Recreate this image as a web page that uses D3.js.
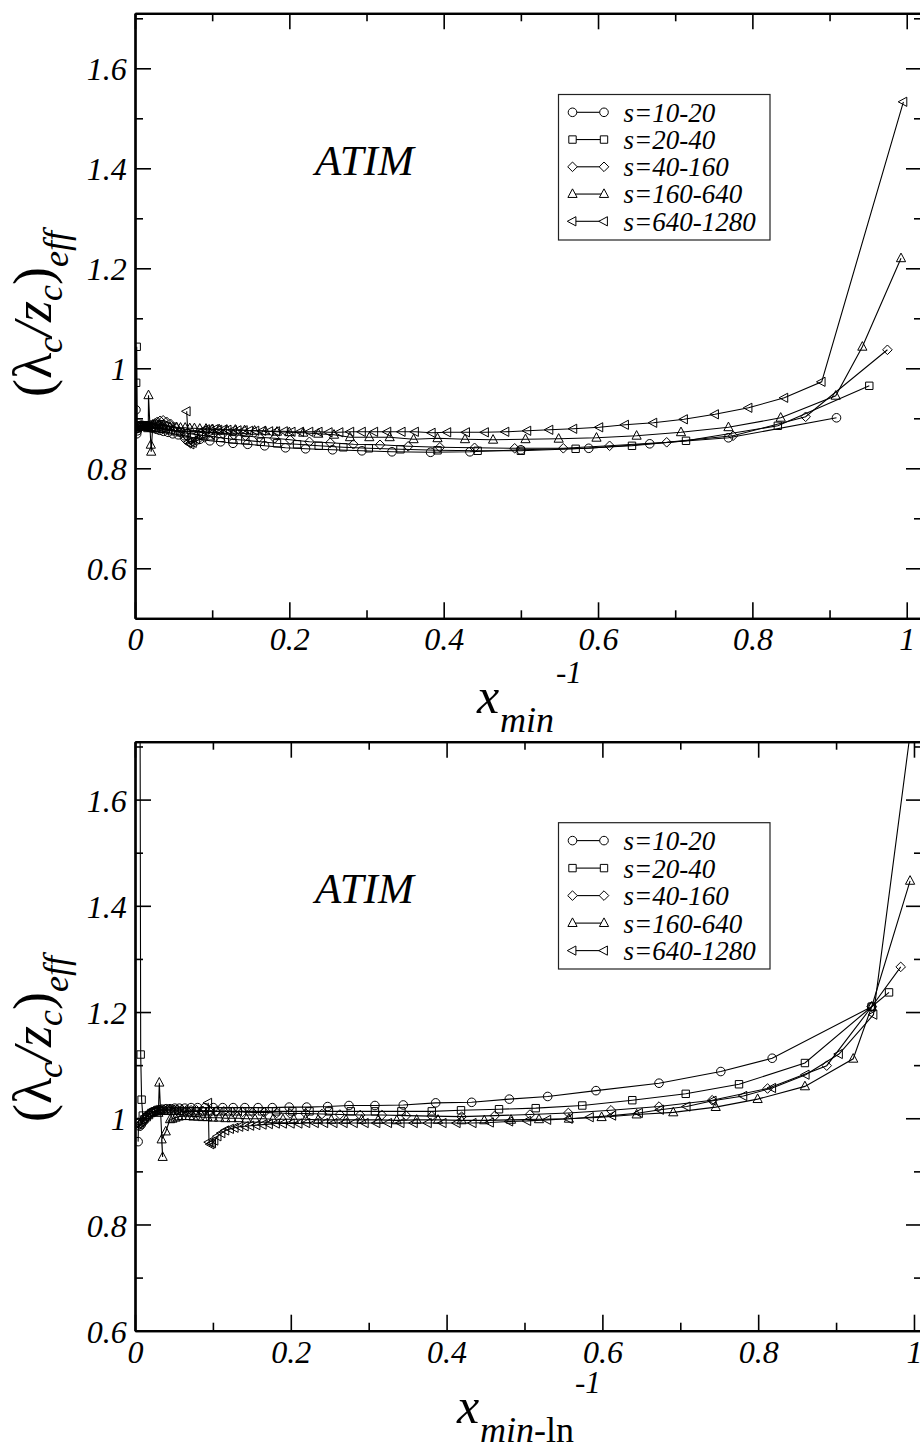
<!DOCTYPE html>
<html lang="en">
<meta charset="utf-8">
<style>
  body { margin: 0; background: #fff; }
  svg text { font-family: 'Liberation Serif', 'DejaVu Serif', serif; font-style: italic; fill: #000; }
</style>
<script src="https://d3js.org/d3.v7.min.js"></script>
<body>
<div id="chart"></div>
<script>
// series labels and symbols
var seriesNames = ["s=10-20", "s=20-40", "s=40-160", "s=160-640", "s=640-1280"];
var symbols = ["circle", "square", "diamond", "triangle", "ltriangle"];
var xMajor = [0, 0.2, 0.4, 0.6, 0.8, 1];
var xMinor = [0.1, 0.3, 0.5, 0.7, 0.9];
var yMajorTop = [0.6, 0.8, 1, 1.2, 1.4, 1.6];
var yMinorTop = [0.7, 0.9, 1.1, 1.3, 1.5, 1.7];
var yMajorBot = [0.6, 0.8, 1, 1.2, 1.4, 1.6];
var yMinorBot = [0.7, 0.9, 1.1, 1.3, 1.5, 1.7];

// ---- top panel: x = x_min^-1, y = (lambda_c/z_c)_eff ----
var topS10 = [[0.909,0.901],[0.769,0.861],[0.667,0.849],[0.588,0.840],[0.500,0.837],[0.434,0.833],
  [0.383,0.832],[0.333,0.833],[0.294,0.835],[0.256,0.837],[0.221,0.839],[0.195,0.841],[0.168,0.845],
  [0.146,0.848],[0.127,0.850],[0.111,0.853],[0.097,0.855],[0.084,0.858],[0.073,0.862],[0.064,0.865],
  [0.056,0.867],[0.049,0.869],[0.043,0.872],[0.037,0.874],[0.032,0.876],[0.028,0.878],[0.024,0.880],
  [0.021,0.881],[0.018,0.882],[0.016,0.883],[0.014,0.884],[0.012,0.885],[0.010,0.885],[0.009,0.886],
  [0.008,0.886],[0.007,0.885],[0.006,0.884],[0.005,0.883],[0.004,0.880],[0.003,0.875],[0.0022,0.869],
  [0.0012,0.917]];
var topS20 = [[0.9515,0.965],[0.833,0.885],[0.714,0.855],[0.644,0.845],[0.571,0.839],[0.500,0.835],
  [0.444,0.835],[0.392,0.836],[0.344,0.838],[0.303,0.840],[0.270,0.842],[0.238,0.845],[0.210,0.848],
  [0.184,0.850],[0.163,0.853],[0.143,0.856],[0.126,0.858],[0.111,0.861],[0.098,0.864],[0.086,0.866],
  [0.076,0.868],[0.067,0.870],[0.059,0.872],[0.052,0.874],[0.046,0.876],[0.040,0.878],[0.035,0.879],
  [0.031,0.880],[0.027,0.881],[0.024,0.882],[0.021,0.883],[0.018,0.884],[0.016,0.885],[0.014,0.886],
  [0.012,0.886],[0.010,0.886],[0.008,0.886],[0.006,0.885],[0.0045,0.884],[0.003,0.885],[0.0022,1.043],
  [0.0015,0.971],[0.0008,0.20]];
var topS40 = [[0.975,1.037],[0.869,0.903],[0.775,0.865],[0.689,0.852],[0.615,0.845],[0.555,0.840],
  [0.492,0.840],[0.440,0.841],[0.395,0.842],[0.354,0.844],[0.3175,0.847],[0.283,0.848],[0.253,0.851],
  [0.226,0.853],[0.201,0.857],[0.181,0.860],[0.161,0.862],[0.143,0.865],[0.128,0.867],[0.114,0.869],
  [0.101,0.868],[0.090,0.862],[0.080,0.855],[0.072,0.850],[0.065,0.858],[0.058,0.872],[0.052,0.882],
  [0.046,0.889],[0.041,0.893],[0.0365,0.896],[0.0325,0.895],[0.029,0.893],[0.026,0.890],[0.023,0.888],
  [0.020,0.886],[0.017,0.885],[0.014,0.884],[0.011,0.884],[0.008,0.883],[0.005,0.882],[0.003,0.880]];
var topS160 = [[0.9926,1.220],[0.9425,1.043],[0.908,0.945],[0.8367,0.901],[0.769,0.882],[0.7075,0.872],
  [0.650,0.865],[0.598,0.861],[0.549,0.859],[0.506,0.858],[0.464,0.857],[0.4276,0.858],[0.392,0.860],
  [0.361,0.858],[0.330,0.862],[0.3036,0.862],[0.2786,0.862],[0.2579,0.867],[0.2375,0.869],[0.218,0.871],
  [0.200,0.872],[0.184,0.873],[0.169,0.874],[0.155,0.875],[0.142,0.876],[0.130,0.877],[0.119,0.877],
  [0.109,0.878],[0.100,0.878],[0.092,0.879],[0.084,0.879],[0.077,0.880],[0.071,0.880],[0.065,0.881],
  [0.059,0.881],[0.054,0.882],[0.049,0.882],[0.045,0.883],[0.041,0.884],[0.037,0.885],[0.034,0.886],
  [0.031,0.887],[0.028,0.888],[0.025,0.887],[0.023,0.886],[0.021,0.833],[0.0205,0.847],[0.0175,0.946],
  [0.0172,0.880]];
var topS640 = [[0.9957,1.533],[0.8898,0.973],[0.8414,0.941],[0.795,0.921],[0.7516,0.908],[0.7114,0.898],
  [0.6717,0.891],[0.635,0.887],[0.6017,0.882],[0.568,0.879],[0.537,0.877],[0.5084,0.875],[0.480,0.873],
  [0.4535,0.872],[0.429,0.872],[0.4047,0.872],[0.3845,0.871],[0.3628,0.873],[0.3456,0.873],[0.327,0.873],
  [0.310,0.873],[0.294,0.873],[0.279,0.873],[0.265,0.872],[0.251,0.872],[0.238,0.873],[0.226,0.873],
  [0.214,0.873],[0.203,0.873],[0.193,0.874],[0.183,0.874],[0.174,0.874],[0.165,0.875],[0.156,0.875],
  [0.148,0.875],[0.141,0.876],[0.133,0.876],[0.127,0.876],[0.120,0.877],[0.114,0.877],[0.108,0.877],
  [0.103,0.878],[0.097,0.878],[0.092,0.878],[0.088,0.876],[0.083,0.870],[0.079,0.858],[0.075,0.851],
  [0.072,0.848],[0.069,0.852],[0.067,0.914]];

// ---- bottom panel: x = x_min-ln^-1 ----
var botS10 = [[0.9457,1.210],[0.818,1.113],[0.752,1.088],[0.6727,1.066],[0.5918,1.052],[0.5298,1.041],
  [0.4805,1.036],[0.4322,1.030],[0.386,1.029],[0.3444,1.025],[0.308,1.024],[0.2747,1.024],[0.2473,1.022],
  [0.2204,1.021],[0.198,1.021],[0.1763,1.020],[0.158,1.020],[0.141,1.020],[0.126,1.020],[0.1126,1.020],
  [0.1005,1.020],[0.0899,1.020],[0.0805,1.020],[0.072,1.020],[0.064,1.019],[0.057,1.019],[0.051,1.019],
  [0.045,1.018],[0.040,1.018],[0.035,1.017],[0.031,1.016],[0.027,1.015],[0.024,1.012],[0.021,1.010],
  [0.018,1.007],[0.015,1.003],[0.012,0.998],[0.010,0.993],[0.008,0.988],[0.006,0.985],[0.0045,0.990],
  [0.004,0.956]];
var botS20 = [[0.968,1.237],[0.9457,1.210],[0.860,1.104],[0.7754,1.064],[0.707,1.046],[0.6384,1.034],
  [0.5742,1.024],[0.5144,1.019],[0.4673,1.017],[0.4185,1.015],[0.381,1.013],[0.342,1.013],[0.308,1.013],
  [0.277,1.013],[0.249,1.013],[0.224,1.013],[0.202,1.013],[0.181,1.013],[0.163,1.013],[0.147,1.013],
  [0.132,1.013],[0.119,1.013],[0.107,1.013],[0.096,1.013],[0.086,1.013],[0.078,1.013],[0.070,1.013],
  [0.063,1.013],[0.057,1.014],[0.051,1.014],[0.046,1.014],[0.041,1.014],[0.037,1.014],[0.033,1.014],
  [0.030,1.014],[0.027,1.013],[0.024,1.012],[0.021,1.010],[0.018,1.006],[0.015,1.002],[0.012,0.998],
  [0.010,1.005],[0.0085,1.035],[0.0073,1.120],[0.0055,2.6]];
var botS40 = [[0.983,1.285],[0.9457,1.210],[0.888,1.099],[0.812,1.056],[0.741,1.034],[0.6727,1.022],
  [0.611,1.015],[0.5563,1.010],[0.507,1.007],[0.462,1.005],[0.4193,1.003],[0.381,1.004],[0.348,1.005],
  [0.317,1.006],[0.289,1.006],[0.263,1.007],[0.240,1.008],[0.219,1.009],[0.199,1.009],[0.182,1.010],
  [0.166,1.011],[0.151,1.011],[0.138,1.012],[0.125,1.012],[0.114,1.013],[0.104,1.013],[0.095,1.014],
  [0.087,1.014],[0.079,1.015],[0.072,1.015],[0.066,1.015],[0.060,1.016],[0.054,1.016],[0.050,1.016],
  [0.045,1.016],[0.041,1.016],[0.037,1.016],[0.034,1.016],[0.031,1.016],[0.028,1.015],[0.025,1.014],
  [0.022,1.012],[0.019,1.009],[0.016,1.005],[0.013,1.000],[0.010,0.994],[0.008,0.990],[0.006,0.988],
  [0.004,0.992]];
var botS160 = [[0.995,1.447],[0.9457,1.210],[0.922,1.112],[0.860,1.060],[0.7993,1.036],[0.7455,1.021],
  [0.691,1.011],[0.644,1.007],[0.599,1.002],[0.557,0.999],[0.5186,0.998],[0.4827,0.997],[0.4484,0.996],
  [0.4193,0.996],[0.389,0.997],[0.3616,0.997],[0.336,0.996],[0.3123,0.997],[0.291,0.997],[0.271,0.997],
  [0.252,0.997],[0.235,0.997],[0.219,0.998],[0.204,0.998],[0.190,0.998],[0.177,0.998],[0.165,0.999],
  [0.154,0.999],[0.143,0.999],[0.133,1.000],[0.124,1.000],[0.116,1.000],[0.108,1.001],[0.100,1.001],
  [0.093,1.002],[0.087,1.002],[0.081,1.003],[0.075,1.003],[0.070,1.004],[0.065,1.004],[0.060,1.004],
  [0.056,1.003],[0.052,1.001],[0.048,0.999],[0.045,0.998],[0.0395,0.975],[0.0342,0.960],[0.0355,0.927],
  [0.0312,1.067],[0.0300,1.010]];
var botS640 = [[1.000,1.78],[0.948,1.195],[0.9037,1.121],[0.861,1.082],[0.818,1.057],[0.781,1.042],
  [0.7416,1.033],[0.7082,1.022],[0.674,1.016],[0.647,1.010],[0.6127,1.005],[0.584,1.002],[0.557,0.999],
  [0.5293,0.997],[0.5036,0.995],[0.4805,0.994],[0.4557,0.992],[0.4335,0.991],[0.413,0.991],[0.395,0.991],
  [0.376,0.991],[0.358,0.991],[0.341,0.991],[0.325,0.991],[0.310,0.991],[0.295,0.991],[0.281,0.991],
  [0.268,0.991],[0.255,0.991],[0.243,0.991],[0.231,0.991],[0.220,0.991],[0.210,0.990],[0.200,0.990],
  [0.190,0.990],[0.181,0.990],[0.172,0.989],[0.164,0.988],[0.156,0.987],[0.148,0.986],[0.141,0.985],
  [0.134,0.984],[0.128,0.982],[0.122,0.980],[0.116,0.977],[0.111,0.972],[0.106,0.966],[0.102,0.958],
  [0.099,0.953],[0.097,0.951],[0.095,0.955],[0.094,1.029]];

var W = 920, H = 1450;
var svg = d3.select("#chart").append("svg")
  .attr("width", W).attr("height", H)
  .attr("viewBox", "0 0 " + W + " " + H);

// symbol path strings, centred on 0,0
function symbolPath(kind) {
  if (kind == "circle") return "M4.3,0A4.3,4.3 0 1,1 -4.3,0A4.3,4.3 0 1,1 4.3,0Z";
  if (kind == "square") return "M-3.7,-3.7H3.7V3.7H-3.7Z";
  if (kind == "diamond") return "M0,-4.8L4.8,0L0,4.8L-4.8,0Z";
  if (kind == "triangle") return "M0,-5.2L4.6,3.4L-4.6,3.4Z";
  return "M-5.2,0L3.4,-4.6L3.4,4.6Z";
}

var panels = [
  { id: "top", left: 135, right: 922, top: 13.3, bottom: 618.3,
    xDomain: [0, 1.0198], yDomain: [0.5, 1.71],
    yMajor: yMajorTop, yMinor: yMinorTop,
    data: [topS10, topS20, topS40, topS160, topS640],
    label: { x: 315, y: 175 },
    legend: { x: 558.5, y: 94.5, w: 211.5, h: 145.5, row0: 121.7, dy: 27.25 },
    ytitle: { x: 51, y: 314 },
    xtitle: { sup: [556, 683], x: [477, 713], sub: [500, 732], ln: false } },
  { id: "bot", left: 135, right: 922, top: 741.7, bottom: 1330.7,
    xDomain: [0, 1.0103], yDomain: [0.6, 1.709],
    yMajor: yMajorBot, yMinor: yMinorBot,
    data: [botS10, botS20, botS40, botS160, botS640],
    label: { x: 315, y: 903 },
    legend: { x: 558.5, y: 822.7, w: 211.5, h: 146.3, row0: 850, dy: 27.5 },
    ytitle: { x: 51, y: 1039 },
    xtitle: { sup: [575, 1393], x: [457, 1423], sub: [480, 1442], ln: true } }
];

var fmt = function(d) { return String(+d.toFixed(1)); };

panels.forEach(function(p) {
  var x = d3.scaleLinear().domain(p.xDomain).range([p.left, p.right]);
  var y = d3.scaleLinear().domain(p.yDomain).range([p.bottom, p.top]);
  var g = svg.append("g").attr("class", "panel-" + p.id);

  g.append("clipPath").attr("id", "clip-" + p.id)
    .append("rect")
      .attr("x", p.left).attr("y", p.top)
      .attr("width", p.right - p.left).attr("height", p.bottom - p.top);

  // data
  var plot = g.append("g").attr("clip-path", "url(#clip-" + p.id + ")");
  var line = d3.line().x(function(d) { return x(d[0]); }).y(function(d) { return y(d[1]); });
  p.data.forEach(function(ser, i) {
    plot.append("path")
      .datum(ser)
      .attr("d", line)
      .attr("fill", "none")
      .attr("stroke", "#000")
      .attr("stroke-width", 1.1);
    plot.selectAll(".m" + i)
      .data(ser)
      .enter()
      .append("path")
        .attr("class", "m" + i)
        .attr("transform", function(d) { return "translate(" + x(d[0]) + "," + y(d[1]) + ")"; })
        .attr("d", symbolPath(symbols[i]))
        .attr("fill", "none")
        .attr("stroke", "#000")
        .attr("stroke-width", 1);
  });

  // axes, ticks pointing inward on all four sides
  function styleAxis(sel) {
    sel.select(".domain").attr("stroke-width", 2.2);
    sel.selectAll(".tick line").attr("stroke-width", 1.6);
  }
  g.append("g").attr("transform", "translate(0," + p.bottom + ")")
    .call(d3.axisBottom(x).tickValues(xMajor).tickSize(-16).tickSizeOuter(0).tickFormat(fmt))
    .call(styleAxis)
    .selectAll("text")
      .attr("y", 32).attr("dy", null)
      .style("font-size", "32px");
  g.append("g").attr("transform", "translate(0," + p.bottom + ")")
    .call(d3.axisBottom(x).tickValues(xMinor).tickSize(-8).tickSizeOuter(0).tickFormat(""))
    .call(styleAxis);
  g.append("g").attr("transform", "translate(0," + p.top + ")")
    .call(d3.axisTop(x).tickValues(xMajor).tickSize(-16).tickSizeOuter(0).tickFormat(""))
    .call(styleAxis);
  g.append("g").attr("transform", "translate(0," + p.top + ")")
    .call(d3.axisTop(x).tickValues(xMinor).tickSize(-8).tickSizeOuter(0).tickFormat(""))
    .call(styleAxis);
  g.append("g").attr("transform", "translate(" + p.left + ",0)")
    .call(d3.axisLeft(y).tickValues(p.yMajor).tickSize(-16).tickSizeOuter(0).tickPadding(8.3).tickFormat(fmt))
    .call(styleAxis)
    .selectAll("text")
      .attr("dy", "0.36em")
      .style("font-size", "32px");
  g.append("g").attr("transform", "translate(" + p.left + ",0)")
    .call(d3.axisLeft(y).tickValues(p.yMinor).tickSize(-8).tickSizeOuter(0).tickFormat(""))
    .call(styleAxis);
  g.append("g").attr("transform", "translate(" + p.right + ",0)")
    .call(d3.axisRight(y).tickValues(p.yMajor).tickSize(-16).tickSizeOuter(0).tickFormat(""))
    .call(styleAxis);
  g.append("g").attr("transform", "translate(" + p.right + ",0)")
    .call(d3.axisRight(y).tickValues(p.yMinor).tickSize(-8).tickSizeOuter(0).tickFormat(""))
    .call(styleAxis);

  // ATIM label
  g.append("text")
    .attr("x", p.label.x).attr("y", p.label.y)
    .style("font-size", "43px")
    .text("ATIM");

  // legend
  var L = p.legend;
  g.append("rect")
    .attr("x", L.x).attr("y", L.y).attr("width", L.w).attr("height", L.h)
    .attr("fill", "#fff").attr("stroke", "#222").attr("stroke-width", 1.2);
  seriesNames.forEach(function(name, i) {
    var by = L.row0 + i * L.dy, my = by - 9.4;
    g.append("line")
      .attr("x1", 572.5).attr("x2", 604).attr("y1", my).attr("y2", my)
      .attr("stroke", "#000").attr("stroke-width", 1.1);
    [572.5, 604].forEach(function(mx) {
      g.append("path")
        .attr("transform", "translate(" + mx + "," + my + ")")
        .attr("d", symbolPath(symbols[i]))
        .attr("fill", "#fff").attr("stroke", "#000").attr("stroke-width", 1);
    });
    g.append("text")
      .attr("x", 623.5).attr("y", by)
      .style("font-size", "27px")
      .text(name);
  });

  // y axis title (lambda_c / z_c)_eff
  var yt = g.append("text")
    .attr("transform", "translate(" + p.ytitle.x + "," + p.ytitle.y + ") rotate(-90)")
    .attr("text-anchor", "middle")
    .style("font-size", "54px");
  yt.append("tspan").style("font-style", "normal").text("(");
  yt.append("tspan").style("font-style", "normal").text("λ");
  yt.append("tspan").attr("dy", 11).style("font-size", "36px").text("c");
  yt.append("tspan").attr("dy", -11).text("/z");
  yt.append("tspan").attr("dy", 11).style("font-size", "36px").text("c");
  yt.append("tspan").attr("dy", -11).style("font-style", "normal").text(")");
  yt.append("tspan").attr("dy", 17).style("font-size", "36px").text("eff");

  // x axis title x_min^-1
  var T = p.xtitle;
  g.append("text").attr("x", T.sup[0]).attr("y", T.sup[1]).style("font-size", "31px").text("-1");
  g.append("text").attr("x", T.x[0]).attr("y", T.x[1]).style("font-size", "50px").text("x");
  var sub = g.append("text").attr("x", T.sub[0]).attr("y", T.sub[1]).style("font-size", "36px");
  sub.append("tspan").text(T.ln ? "min-" : "min");
  if (T.ln) sub.append("tspan").style("font-style", "normal").text("ln");
});
</script>
</body>
</html>
